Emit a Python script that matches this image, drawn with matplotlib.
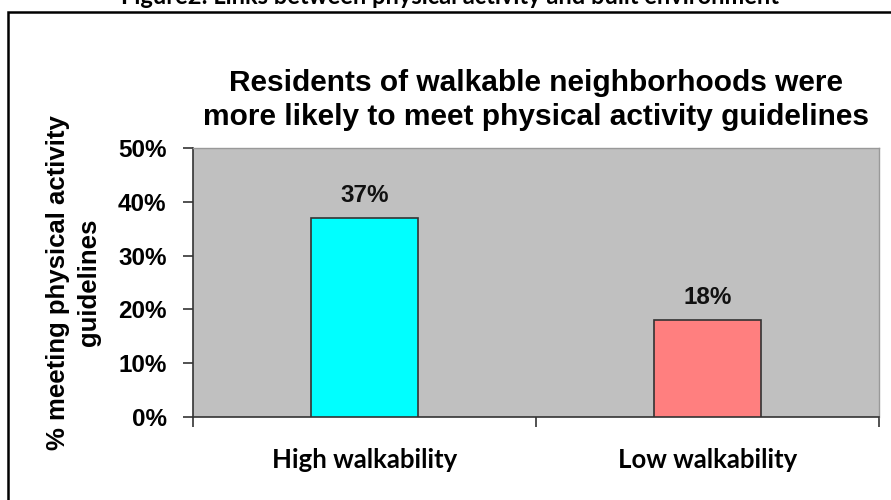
import matplotlib
matplotlib.use("Agg")
import matplotlib.pyplot as plt
from matplotlib.patches import Rectangle

categories = ["High walkability", "Low walkability"]
values = [37, 18]
bar_colors = ["#00FFFF", "#FF7F7F"]
yticks = [0, 10, 20, 30, 40, 50]

W, H = 891, 500
fig = plt.figure(figsize=(W / 100, H / 100), dpi=100)

# outer frame (extends past right and bottom edges)
fig.patches.append(Rectangle((8 / W, -0.1), 1.2, 1 - 12 / H + 0.1,
                             transform=fig.transFigure, fill=False,
                             edgecolor="black", linewidth=1.8))

fig.text(450 / W, 1 + 4 / H, "Figure2: Links between physical activity and built environment",
         ha="center", va="center", fontsize=17, fontweight="bold", family="Lato")

left, right, top, bottom = 193, 879, 148, 417
ax = fig.add_axes([left / W, 1 - bottom / H, (right - left) / W, (bottom - top) / H])
ax.set_facecolor("#C0C0C0")

x = list(range(len(categories)))
bars = ax.bar(x, values, width=0.31, color=bar_colors, edgecolor="#333333", linewidth=1.2, zorder=3)
ax.set_xlim(-0.5, len(categories) - 0.5)
ax.set_ylim(0, 50)

for xi, v in zip(x, values):
    ax.text(xi, v + 2.0, f"{v}%", ha="center", va="bottom", fontsize=17.5,
            fontweight="bold", family="Liberation Sans", color="#111111")

ax.set_yticks(yticks)
ax.set_yticklabels([f"{t}%" for t in yticks], fontsize=17.5, fontweight="bold",
                   family="Liberation Sans")
ax.set_xticks([-0.5, 0.5, 1.5], minor=True)
ax.set_xticks(x)
ax.set_xticklabels(categories, fontsize=18.5, fontweight="bold", family="Lato")
ax.tick_params(axis="x", which="major", length=0, pad=22)
ax.tick_params(axis="x", which="minor", length=7, width=1.2, color="#333333")
ax.tick_params(axis="y", length=7, width=1.2, color="#333333", pad=12)

for s in ["top", "right"]:
    ax.spines[s].set_color("#999999")
    ax.spines[s].set_linewidth(1.0)
for s in ["left", "bottom"]:
    ax.spines[s].set_color("#333333")
    ax.spines[s].set_linewidth(1.2)

ax.set_ylabel("% meeting physical activity\nguidelines", fontsize=18.5, fontweight="bold",
              family="Liberation Sans", labelpad=12, linespacing=1.4)

fig.text(536 / W, 1 - 100 / H,
         "Residents of walkable neighborhoods were\nmore likely to meet physical activity guidelines",
         ha="center", va="center", fontsize=21.5, fontweight="bold", family="Liberation Sans",
         linespacing=1.3)

fig.savefig("out.png", dpi=100)
